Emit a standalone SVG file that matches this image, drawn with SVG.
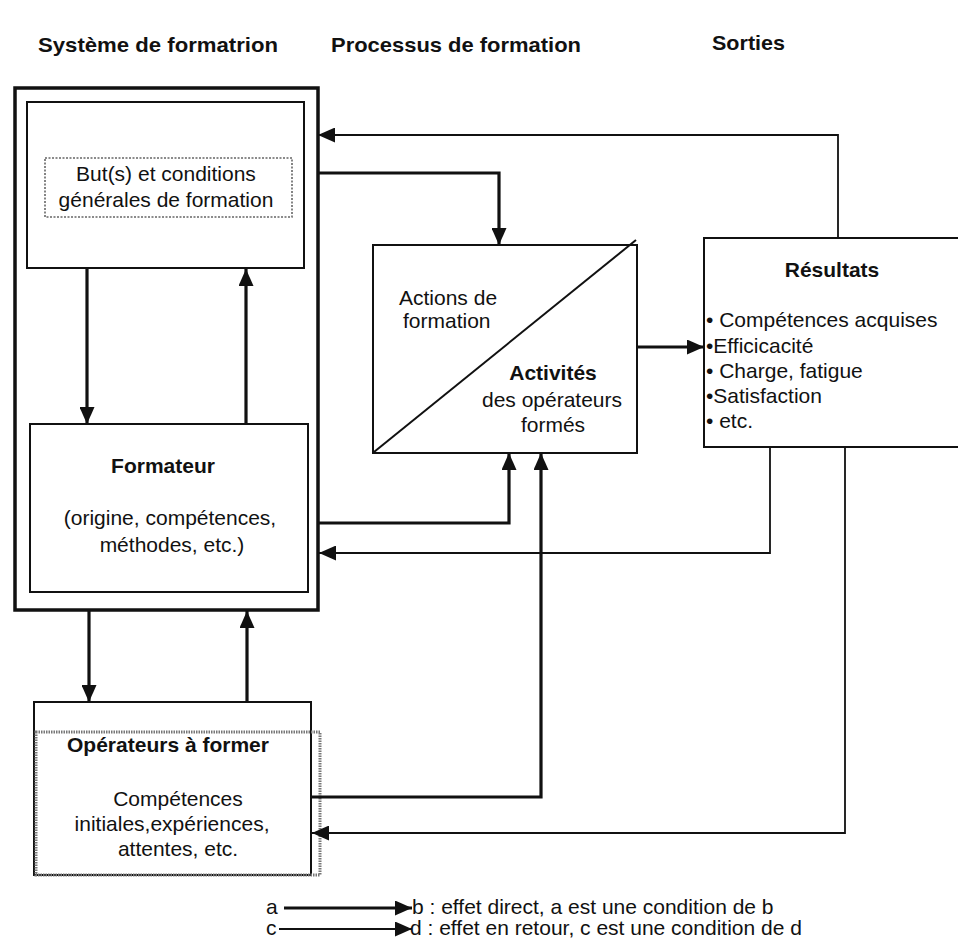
<svg xmlns="http://www.w3.org/2000/svg" width="958" height="952" viewBox="0 0 958 952">
<style>
text{font-family:"Liberation Sans",Arial,sans-serif;font-size:21px;fill:#111}
.b{font-weight:bold}
.m{text-anchor:middle}
.box{fill:none;stroke:#111;stroke-width:2}
.thick{fill:none;stroke:#111;stroke-width:3.2}
.thin{fill:none;stroke:#111;stroke-width:1.8}
</style>
<defs>
<marker id="ah" markerUnits="userSpaceOnUse" markerWidth="17" markerHeight="15" refX="17" refY="7.5" orient="auto">
<path d="M0,0 L17,7.5 L0,15 z" fill="#111"/>
</marker>
</defs>
<rect width="958" height="952" fill="#fff"/>

<g id="headers">
<text class="b" x="38" y="52" font-size="19" textLength="240" lengthAdjust="spacingAndGlyphs">Système de formatrion</text>
<text class="b" x="331" y="52" font-size="19" textLength="250" lengthAdjust="spacingAndGlyphs">Processus de formation</text>
<text class="b" x="712" y="50" font-size="19" textLength="73" lengthAdjust="spacingAndGlyphs">Sorties</text>
</g>

<g id="systeme">
<rect x="15" y="88" width="303" height="522" fill="none" stroke="#111" stroke-width="3.5"/>
</g>

<g id="buts">
<rect class="box" x="27" y="102" width="277" height="166"/>
<rect x="45" y="158" width="247" height="59" fill="none" stroke="#666" stroke-width="1.6" stroke-dasharray="2 1.5"/>
<text class="m" x="166" y="181">But(s) et conditions</text>
<text class="m" x="166" y="207">générales de formation</text>
</g>

<g id="formateur">
<rect class="box" x="30" y="424" width="278" height="168"/>
<text class="b m" x="163" y="473">Formateur</text>
<text class="m" x="170" y="525">(origine, compétences,</text>
<text class="m" x="172" y="552">méthodes, etc.)</text>
</g>

<g id="operateurs">
<rect class="box" x="34" y="702" width="277" height="173"/>
<rect x="36" y="732" width="284" height="143" fill="none" stroke="#777" stroke-width="3" stroke-dasharray="1.5 1"/>
<text class="b m" x="168" y="752">Opérateurs à former</text>
<text class="m" x="178" y="806">Compétences</text>
<text class="m" x="172" y="831">initiales,expériences,</text>
<text class="m" x="178" y="856">attentes, etc.</text>
</g>

<g id="activites">
<rect class="box" x="373" y="245" width="264" height="208"/>
<line x1="374" y1="452" x2="636" y2="240" stroke="#111" stroke-width="2"/>
<text x="399" y="305">Actions de</text>
<text x="403" y="328">formation</text>
<text class="b m" x="553" y="380">Activités</text>
<text class="m" x="552" y="407">des opérateurs</text>
<text class="m" x="553" y="432">formés</text>
</g>

<g id="resultats">
<path class="box" d="M958,238 H704 V447 H958"/>
<text class="b m" x="832" y="277">Résultats</text>
<text x="706" y="327">• Compétences acquises</text>
<text x="706" y="353">•Efficicacité</text>
<text x="706" y="378">• Charge, fatigue</text>
<text x="706" y="403">•Satisfaction</text>
<text x="706" y="428">• etc.</text>
</g>

<g id="connectors">
<path class="thick" d="M318,173 H499 V245" marker-end="url(#ah)"/>
<path class="thick" d="M318,523 H509 V453" marker-end="url(#ah)"/>
<path class="thick" d="M311,797 H541 V453" marker-end="url(#ah)"/>
<path class="thick" d="M637,347 H704" marker-end="url(#ah)"/>
<path class="thick" d="M87,268 V424" marker-end="url(#ah)"/>
<path class="thick" d="M246,424 V269" marker-end="url(#ah)"/>
<path class="thick" d="M89,610 V702" marker-end="url(#ah)"/>
<path class="thick" d="M247,702 V611" marker-end="url(#ah)"/>
<path class="thin" d="M838,238 V135 H318" marker-end="url(#ah)"/>
<path class="thin" d="M770,447 V553 H319" marker-end="url(#ah)"/>
<path class="thin" d="M845,447 V833 H312" marker-end="url(#ah)"/>
</g>

<g id="legend">
<text x="266" y="914">a</text>
<path class="thick" d="M284,908 H412" marker-end="url(#ah)"/>
<text x="412" y="914">b : effet direct, a est une condition de b</text>
<text x="266" y="935">c</text>
<path class="thin" d="M279,929 H412" marker-end="url(#ah)"/>
<text x="410" y="935">d : effet en retour, c est une condition de d</text>
</g>
</svg>
